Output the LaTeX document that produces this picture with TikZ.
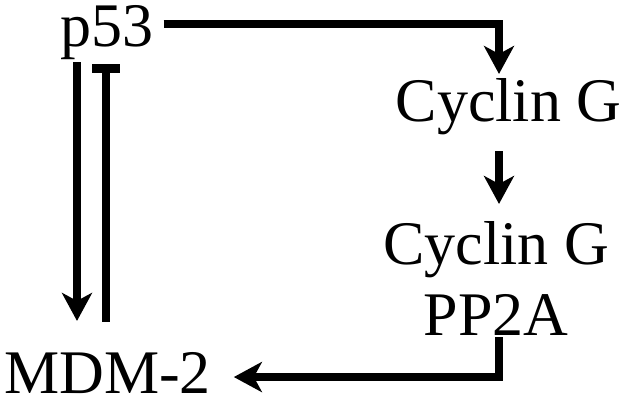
\documentclass[tikz,border=0pt]{standalone}
\usepackage{fontspec}
\setmainfont{Liberation Serif}
\usetikzlibrary{arrows.meta,calc}
\tikzset{
  lbl/.style={inner sep=0pt, outer sep=0pt, anchor=base, font=\fontsize{62}{70}\selectfont},
  conn/.style={line width=8.5pt},
  arr/.style={conn, -{Stealth[length=28pt,width=30pt,inset=8pt]}},
  inh/.style={conn, -{Bar[width=28pt]}}
}
\begin{document}
\begin{tikzpicture}[x=1pt,y=-1pt]
\useasboundingbox (0,0) rectangle (626,399);
\node[lbl] (p53) at (107,46) {p53};
\node[lbl] (cyc1) at (508.5,121) {Cyclin G};
\node[lbl] (cyc2) at (496,264) {Cyclin G};
\node[lbl] (pp) at (496,335) {PP2A};
\node[lbl] (mdm) at (107.5,393) {MDM-2};
% p53 -> Cyclin G
\coordinate (s1) at ($(p53.north east)+(10,19)$);
\coordinate (t1) at ($(cyc1.north)+(-9.5,-4)$);
\draw[arr] (s1) -| (t1);
% Cyclin G -> Cyclin G/PP2A
\coordinate (s2) at ($(cyc1.south)+(-9.5,17)$);
\coordinate (t2) at ($(s2 |- cyc2.north)+(0,-17)$);
\draw[arr] (s2) -- (t2);
% p53 -> MDM-2
\coordinate (s3) at ($(p53.south)+(-30,3)$);
\coordinate (t3) at ($(s3 |- mdm.north)+(0,-31)$);
\draw[arr] (s3) -- (t3);
% MDM-2 -| p53
\coordinate (s4) at ($(mdm.north)+(-1.5,-30)$);
\coordinate (t4) at ($(s4 |- p53.south)+(0,5)$);
\draw[inh] (s4) -- (t4);
% PP2A -> MDM-2
\coordinate (s5) at ($(pp.south)+(3,2)$);
\coordinate (t5) at ($(mdm.east)+(23,4.5)$);
\draw[arr] (s5) |- (t5);
\end{tikzpicture}
\end{document}
